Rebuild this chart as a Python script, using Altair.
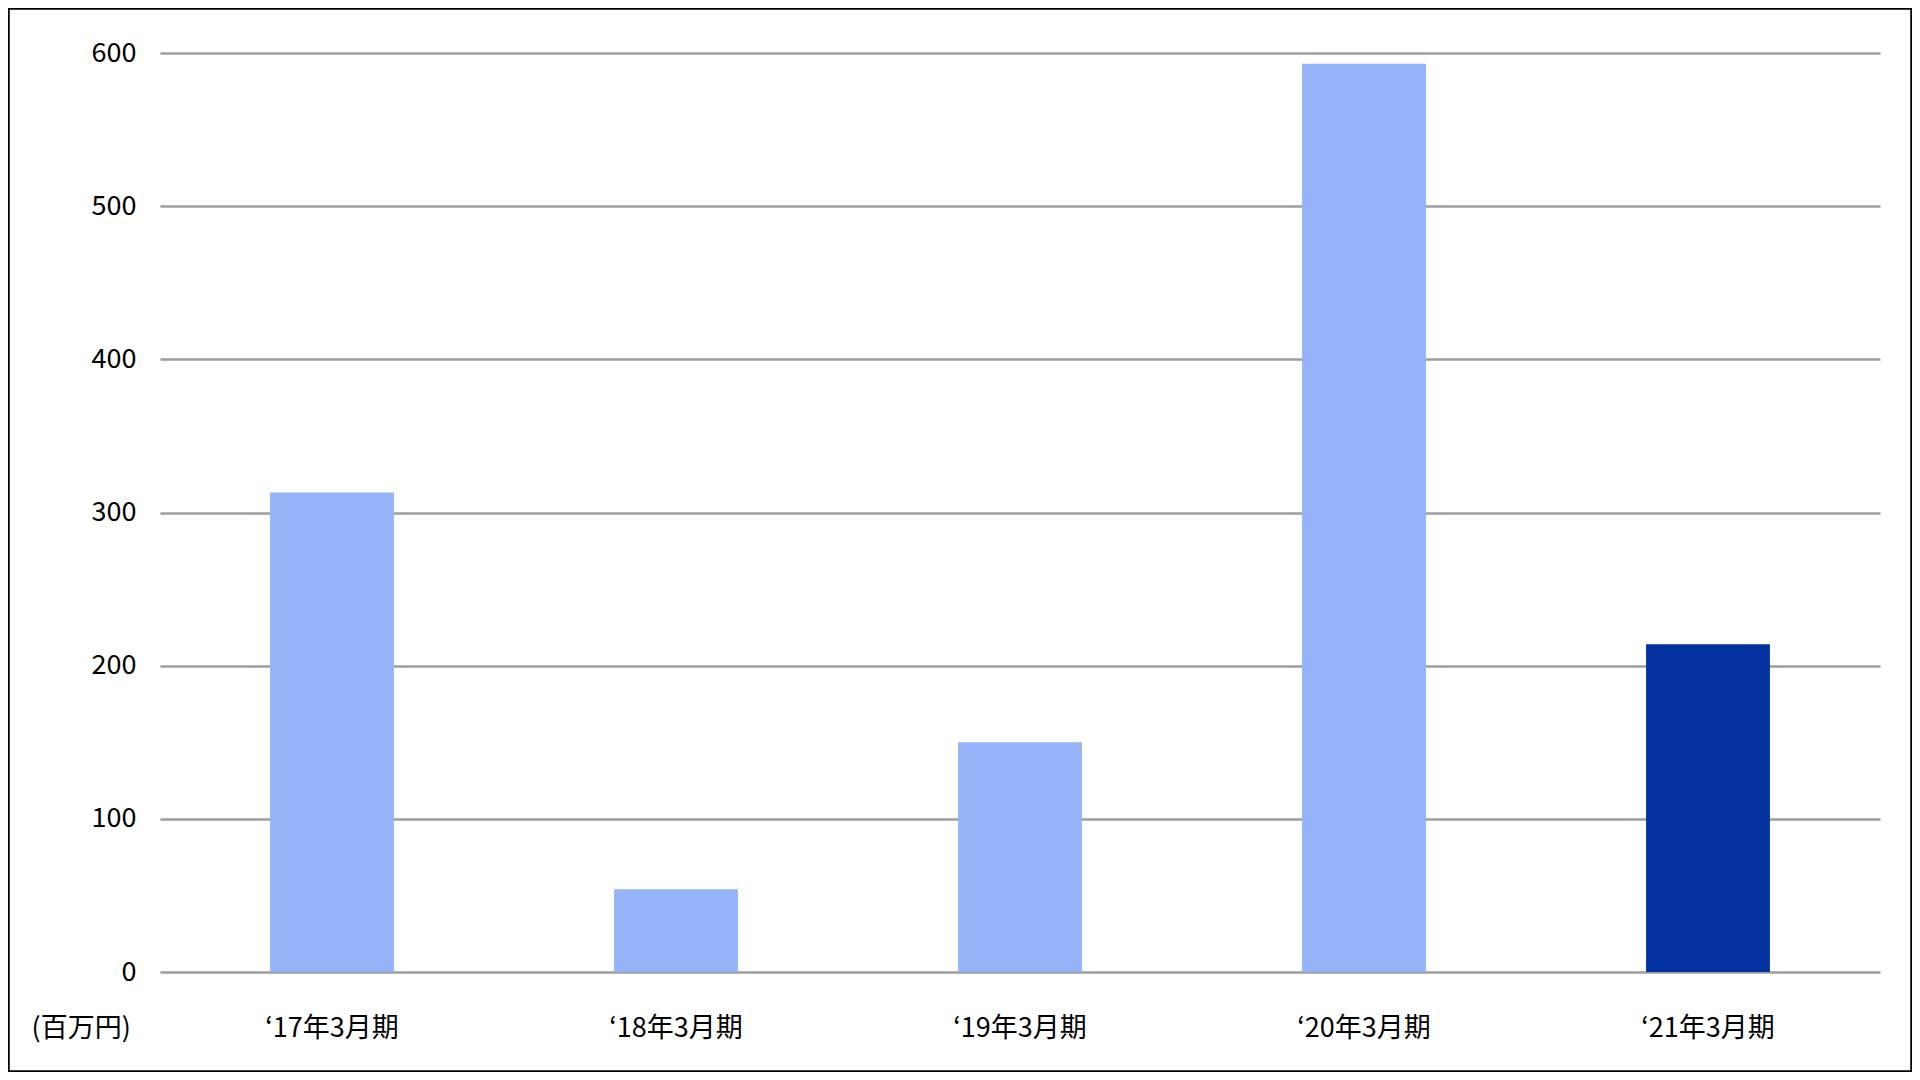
import altair as alt
import pandas as pd

periods = ["‘17年3月期", "‘18年3月期", "‘19年3月期", "‘20年3月期", "‘21年3月期"]
values = [313, 54, 150, 593, 214]
y_ticks = [0, 100, 200, 300, 400, 500, 600]
unit_label = "(百万円)"

df = pd.DataFrame({"period": periods, "value": values})

FONT = "Noto Sans CJK JP"
FS = 27
W, H = 1720, 919

bars = alt.Chart(df).mark_bar().encode(
    x=alt.X("period:N", sort=periods,
            scale=alt.Scale(paddingInner=0.64, paddingOuter=0.32),
            axis=alt.Axis(title=None, labelAngle=0, ticks=False, domain=False,
                          grid=False, labelPadding=56, labelBaseline="middle",
                          labelFont=FONT, labelFontSize=FS, labelColor="#000000")),
    y=alt.Y("value:Q", scale=alt.Scale(domain=[0, 600], nice=False),
            axis=alt.Axis(values=y_ticks, title=unit_label, titleAngle=0,
                          titleAlign="left", titleBaseline="middle",
                          titleX=-129, titleY=H + 56,
                          titleFont=FONT, titleFontSize=FS, titleFontWeight="normal",
                          titleColor="#000000",
                          ticks=False, domain=False, labelPadding=24,
                          labelFont=FONT, labelFontSize=FS, labelColor="#000000",
                          grid=True, gridColor="#9E9E9E", gridWidth=2.5)),
    color=alt.condition(alt.datum.period == periods[-1],
                        alt.value("#0333A1"), alt.value("#95B3F9")),
)

frame = alt.Chart(df).mark_rect(fill=None, stroke="#000000", strokeWidth=1.5).encode(
    x=alt.value(-151.5), x2=alt.value(W + 31.5),
    y=alt.value(-44.5), y2=alt.value(H + 99.5),
)

chart = alt.layer(bars, frame).properties(
    width=W, height=H,
    autosize=alt.AutoSizeParams(type="none"),
    padding={"left": 152, "top": 45, "right": 32, "bottom": 100},
    background="#FFFFFF",
).configure_view(stroke=None)

chart.save("out.html", embed_options={"renderer": "svg", "actions": False})
